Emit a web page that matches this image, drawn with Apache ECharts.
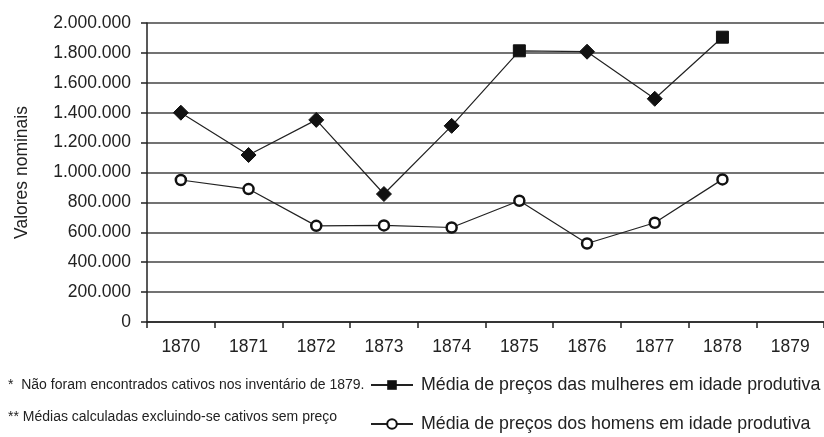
<!DOCTYPE html>
<html><head><meta charset="utf-8">
<script src="https://cdn.jsdelivr.net/npm/echarts@6/dist/echarts.min.js"></script>
<style>html,body{margin:0;padding:0;background:#fff}#c{width:824px;height:437px}</style>
</head><body><div id="c"></div>
<script>
var categories = ['1870','1871','1872','1873','1874','1875','1876','1877','1878','1879'];
var women = [1400000, 1117000, 1352000, 856000, 1312000, 1814000, 1808000, 1493000, 1905000, null];
var womenSymbols = ['diamond','diamond','diamond','diamond','diamond','rect','diamond','diamond','rect','diamond'];
var men = [950000, 889000, 643000, 646000, 632000, 811000, 525000, 664000, 954000, null];
var seriesNames = ['Média de preços das mulheres em idade produtiva','Média de preços dos homens em idade produtiva'];
var footnotes = ['*  Não foram encontrados cativos nos inventário de 1879.','** Médias calculadas excluindo-se cativos sem preço'];

var FONT = '"Liberation Sans", Arial, sans-serif';
function fmt(v){ return String(v).replace(/\B(?=(\d{3})+(?!\d))/g,'.'); }

var chart = echarts.init(document.getElementById('c'), null, {renderer:'canvas'});
chart.setOption({
  animation:false,
  backgroundColor:'#fff',
  textStyle:{fontFamily:FONT},
  grid:{left:147, right:0, top:23, bottom:115, containLabel:false},
  xAxis:{
    type:'category', data:categories, boundaryGap:true,
    axisLine:{lineStyle:{color:'#222', width:1.5}},
    axisTick:{show:true, length:6, lineStyle:{color:'#222', width:1.5}},
    axisLabel:{color:'#222', fontSize:17.5, margin:16, fontFamily:FONT},
    splitLine:{show:false}
  },
  yAxis:{
    type:'value', min:0, max:2000000, interval:200000,
    name:'Valores nominais', nameLocation:'middle', nameGap:116, nameRotate:90,
    nameTextStyle:{color:'#222', fontSize:17.5, fontFamily:FONT},
    axisLine:{show:true, lineStyle:{color:'#222', width:1.5}},
    axisTick:{show:true, length:6, lineStyle:{color:'#222', width:1.5}},
    axisLabel:{color:'#222', fontSize:17.5, margin:16, fontFamily:FONT, formatter:fmt},
    splitLine:{show:true, lineStyle:{color:'#444', width:1.5}}
  },
  legend:{
    orient:'vertical', left:370, top:376, itemGap:21, padding:0,
    itemWidth:42, itemHeight:12,
    textStyle:{color:'#222', fontSize:17.8, fontFamily:FONT, padding:[0,0,0,3]},
    data:[seriesNames[0], seriesNames[1]]
  },
  series:[
    {
      name:seriesNames[0], type:'line', symbol:'rect', symbolSize:11,
      data:women.map(function(v,i){return {value:v, symbol:womenSymbols[i], symbolSize: womenSymbols[i]==='rect'?12:15};}),
      lineStyle:{color:'#222', width:1.2},
      itemStyle:{color:'#111', borderColor:'#111'},
      connectNulls:false
    },
    {
      name:seriesNames[1], type:'line', symbol:'circle', symbolSize:10,
      data:men,
      lineStyle:{color:'#222', width:1.2},
      itemStyle:{color:'#fff', borderColor:'#111', borderWidth:2.5}
    }
  ],
  graphic:[
    {type:'text', left:8, top:378, style:{text:footnotes[0], fill:'#222', font:'14px '+FONT}},
    {type:'text', left:8, top:410, style:{text:footnotes[1], fill:'#222', font:'14px '+FONT}}
  ]
});
</script></body></html>
